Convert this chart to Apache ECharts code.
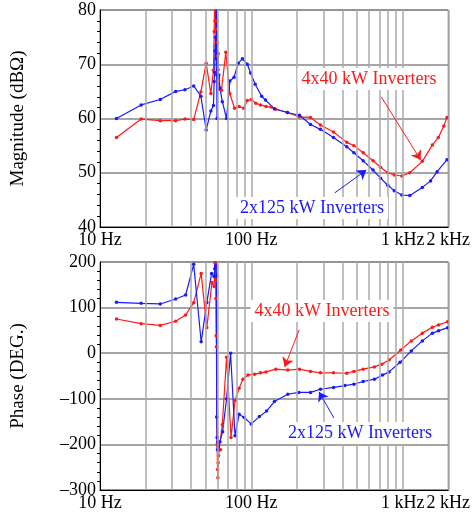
<!DOCTYPE html>
<html>
<head>
<meta charset="utf-8">
<script src="https://cdn.jsdelivr.net/npm/echarts@6/dist/echarts.min.js"></script>
<style>html,body{margin:0;padding:0;background:#fff}#c{width:473px;height:516px}</style>
</head>
<body>
<div id="c"></div>
<script>
// ---- data ----
const xTickLabels = [10, 100, 1000, 2000];
const xLabelText = ['10 Hz', '100 Hz', '1 kHz', '2 kHz'];
const vertGridValues = [20,30,40,50,60,70,80,90,100,200,300,400,500,600,700,800,900,1000,2000];

const blueMagFreq = [12.85,18.7,25,31.6,36.4,41.6,46.4,50.3,54,56.2,56.8,57.2,57.6,58.0,58.3,58.6,58.9,59.1,59.3,59.6,59.9,60.2,60.5,61.0,62,64.3,68.6,72.1,76.9,81.8,87.3,94,98.9,106,117,124,142,173,208,246,286,349,427,476,548,637,714,797,880,988,1114,1348,1528,1688,1963];
const blueMag = [60,62.5,63.5,65.0,65.3,66.0,64.1,57.9,61.4,62.4,66.8,68.5,72.5,75,71,81,73.5,68,60,70,69,72,67.5,68,65.6,63.1,60.0,66.9,67.6,70.2,71.0,70.0,68.4,66.3,64.1,63.4,61.8,61.1,60.6,58.9,58.0,56.5,54.8,53.7,52.2,50.5,49.0,47.7,46.7,45.9,45.8,47.3,48.5,50.2,52.4];

const redMagFreq = [12.85,18.7,25,31.6,36.4,41.6,46.4,50.3,54,56.2,56.8,57.2,57.5,57.8,58.1,58.4,58.7,59.0,59.3,59.6,59.9,60.2,60.6,61.2,63.5,67.8,72,77.5,83,89,94,99.8,107,115,125,135,145,173,208,246,286,349,427,476,548,637,714,797,880,988,1114,1348,1570,1720,1869,1963];
const redMag = [56.5,59.9,59.6,59.6,59.9,59.8,64.9,70.2,64.6,68.9,76,81,78,83,76.5,81,75,82,78,74,71.5,69,67,65.4,65.2,72.2,64.6,61.9,62.2,61.9,63.3,63.5,62.8,62.5,62.2,62.1,61.7,61.1,60.3,60.2,58.8,57.5,55.6,55.0,53.7,52.2,51.0,50.0,49.6,49.4,50.0,52.1,55.1,56.5,58.6,60.2];

const bluePhaseFreq = [12.85,18.7,25,31.6,36.8,41.6,46.6,50.8,54.6,56.7,57.3,57.7,58.1,58.5,58.8,59.1,59.4,59.7,60.1,60.6,62,64.6,68.6,72.9,78,83,89.6,99.8,113,126,142,174,206,246,286,349,415,476,548,650,736,813,960,1140,1348,1570,1725,1980];
const bluePhase = [111.6,109.4,108,118.9,127.6,195,25,111,175,168,185,205,192,210,170,-140,-185,-212,-195,-205,-194,-172,-100,0,-181,-134,-141,-155,-139,-127,-106,-90,-86,-86,-79,-75,-71,-68,-62,-57,-48,-41,-20,5,27,44,49,56];

const redPhaseFreq = [12.85,18.7,25,31.6,36.8,41.6,46.6,50.8,54.9,56.8,57.5,57.8,58.1,58.3,58.5,58.8,59.1,59.4,59.8,60.1,60.4,60.7,61.2,62.6,64.3,68.6,73.4,78,83,88,95,105,115,125,145,174,208,246,286,349,427,476,548,650,727,813,970,1140,1348,1570,1725,1980];
const redPhase = [75,64.7,61,70,83.8,110.8,175,56,155,146,198,205,160,120,38,14,-140,-200,-255,-273,-240,-225,-212,-212,-157,-9,-185,-104,-77,-57,-48,-46,-43,-41,-35,-37,-35,-40,-43,-43,-44,-40,-35,-30,-24,-15,7,27,44,57,62,69];

// annotation arrows (data space): [fromFreq, fromVal, toFreq, toVal]
const arrowRedTop = [721, 64.0, 1315, 52.35];
const arrowBlueTop = [356, 46.3, 575, 50.5];
const arrowRedBottom = [207, 51, 166, -30];
const arrowBlueBottom = [351, -142, 280, -85];

// ---- chart ----
const RED = '#ff1a1a', BLUE = '#1a1aff';
const FONT = 'Liberation Serif';
const zip = (a, b) => a.map((v, i) => [v, b[i]]);

function xAxis(idx) {
  return {
    type: 'log', logBase: 10, min: 10, max: 2000, gridIndex: idx,
    axisLine: { show: true, onZero: false, lineStyle: { color: '#000', width: 1 } },
    axisTick: { show: false },
    splitLine: { show: false },
    axisLabel: {
      color: '#000', fontFamily: FONT, fontSize: 18, margin: 4, interval: 0, hideOverlap: false,
      formatter: v => { const i = xTickLabels.findIndex(t => Math.abs(t - v) / t < 1e-6); return i >= 0 ? xLabelText[i] : ''; }
    }
  };
}
function yAxis(idx, min, max, interval, name) {
  return {
    type: 'value', gridIndex: idx, min, max, interval, name,
    nameLocation: 'middle', nameRotate: 90, nameGap: 72,
    nameTextStyle: { color: '#000', fontFamily: FONT, fontSize: 19 },
    axisLine: { show: true, onZero: false, lineStyle: { color: '#000', width: 1 } },
    axisTick: { show: false },
    minorTick: { show: true, splitNumber: 5, length: 3, lineStyle: { color: '#000' } },
    splitLine: { show: true, lineStyle: { color: '#888', width: 1.5 } },
    axisLabel: { color: '#000', fontFamily: FONT, fontSize: 18, margin: 4, formatter: v => v < 0 ? '\u2013' + Math.abs(v) : String(v) }
  };
}
function gridSeries(idx) {
  return {
    type: 'line', xAxisIndex: idx, yAxisIndex: idx, data: [], silent: true, z: 1,
    markLine: {
      silent: true, symbol: ['none', 'none'], animation: false, label: { show: false },
      lineStyle: { color: '#aaa', width: 1.5, type: 'solid' },
      data: vertGridValues.map(v => ({ xAxis: v }))
    }
  };
}
function dataSeries(idx, freq, vals, color) {
  return {
    type: 'line', xAxisIndex: idx, yAxisIndex: idx, data: zip(freq, vals), z: 3,
    symbol: 'circle', symbolSize: 3.5, showSymbol: true, animation: false,
    itemStyle: { color }, lineStyle: { color, width: 1.2 }
  };
}
function arrowSeries(idx, a, color) {
  return {
    type: 'line', xAxisIndex: idx, yAxisIndex: idx, data: [], silent: true, z: 4,
    markLine: {
      silent: true, animation: false, symbol: ['none', 'arrow'], symbolSize: 9,
      label: { show: false }, lineStyle: { color, width: 1, type: 'solid' },
      data: [[{ coord: [a[0], a[1]] }, { coord: [a[2], a[3]] }]]
    }
  };
}
function label(text, x, y, color) {
  return {
    type: 'text', x, y, z: 100,
    style: { text, fill: color, font: '18px "Liberation Serif"', align: 'center', verticalAlign: 'middle',
             backgroundColor: '#fff', padding: [2, 4] }
  };
}

const chart = echarts.init(document.getElementById('c'), null, { renderer: 'canvas' });
chart.setOption({
  animation: false,
  backgroundColor: '#fff',
  grid: [
    { left: 100, top: 10, width: 352, height: 217, show: true, borderColor: '#666', borderWidth: 1 },
    { left: 100, top: 262, width: 352, height: 228, show: true, borderColor: '#666', borderWidth: 1 }
  ],
  xAxis: [xAxis(0), xAxis(1)],
  yAxis: [yAxis(0, 40, 80, 10, 'Magnitude (dB\u03A9)'), yAxis(1, -300, 200, 100, 'Phase (DEG.)')],
  series: [
    gridSeries(0), gridSeries(1),
    dataSeries(0, redMagFreq, redMag, RED),
    dataSeries(0, blueMagFreq, blueMag, BLUE),
    dataSeries(1, redPhaseFreq, redPhase, RED),
    dataSeries(1, bluePhaseFreq, bluePhase, BLUE),
    arrowSeries(0, arrowRedTop, RED), arrowSeries(0, arrowBlueTop, BLUE),
    arrowSeries(1, arrowRedBottom, RED), arrowSeries(1, arrowBlueBottom, BLUE)
  ],
  graphic: [
    label('4x40 kW Inverters', 369, 79, RED),
    label('2x125 kW Inverters', 312, 208, BLUE),
    label('4x40 kW Inverters', 322, 311, RED),
    label('2x125 kW Inverters', 360, 433, BLUE)
  ]
});
</script>
</body>
</html>
